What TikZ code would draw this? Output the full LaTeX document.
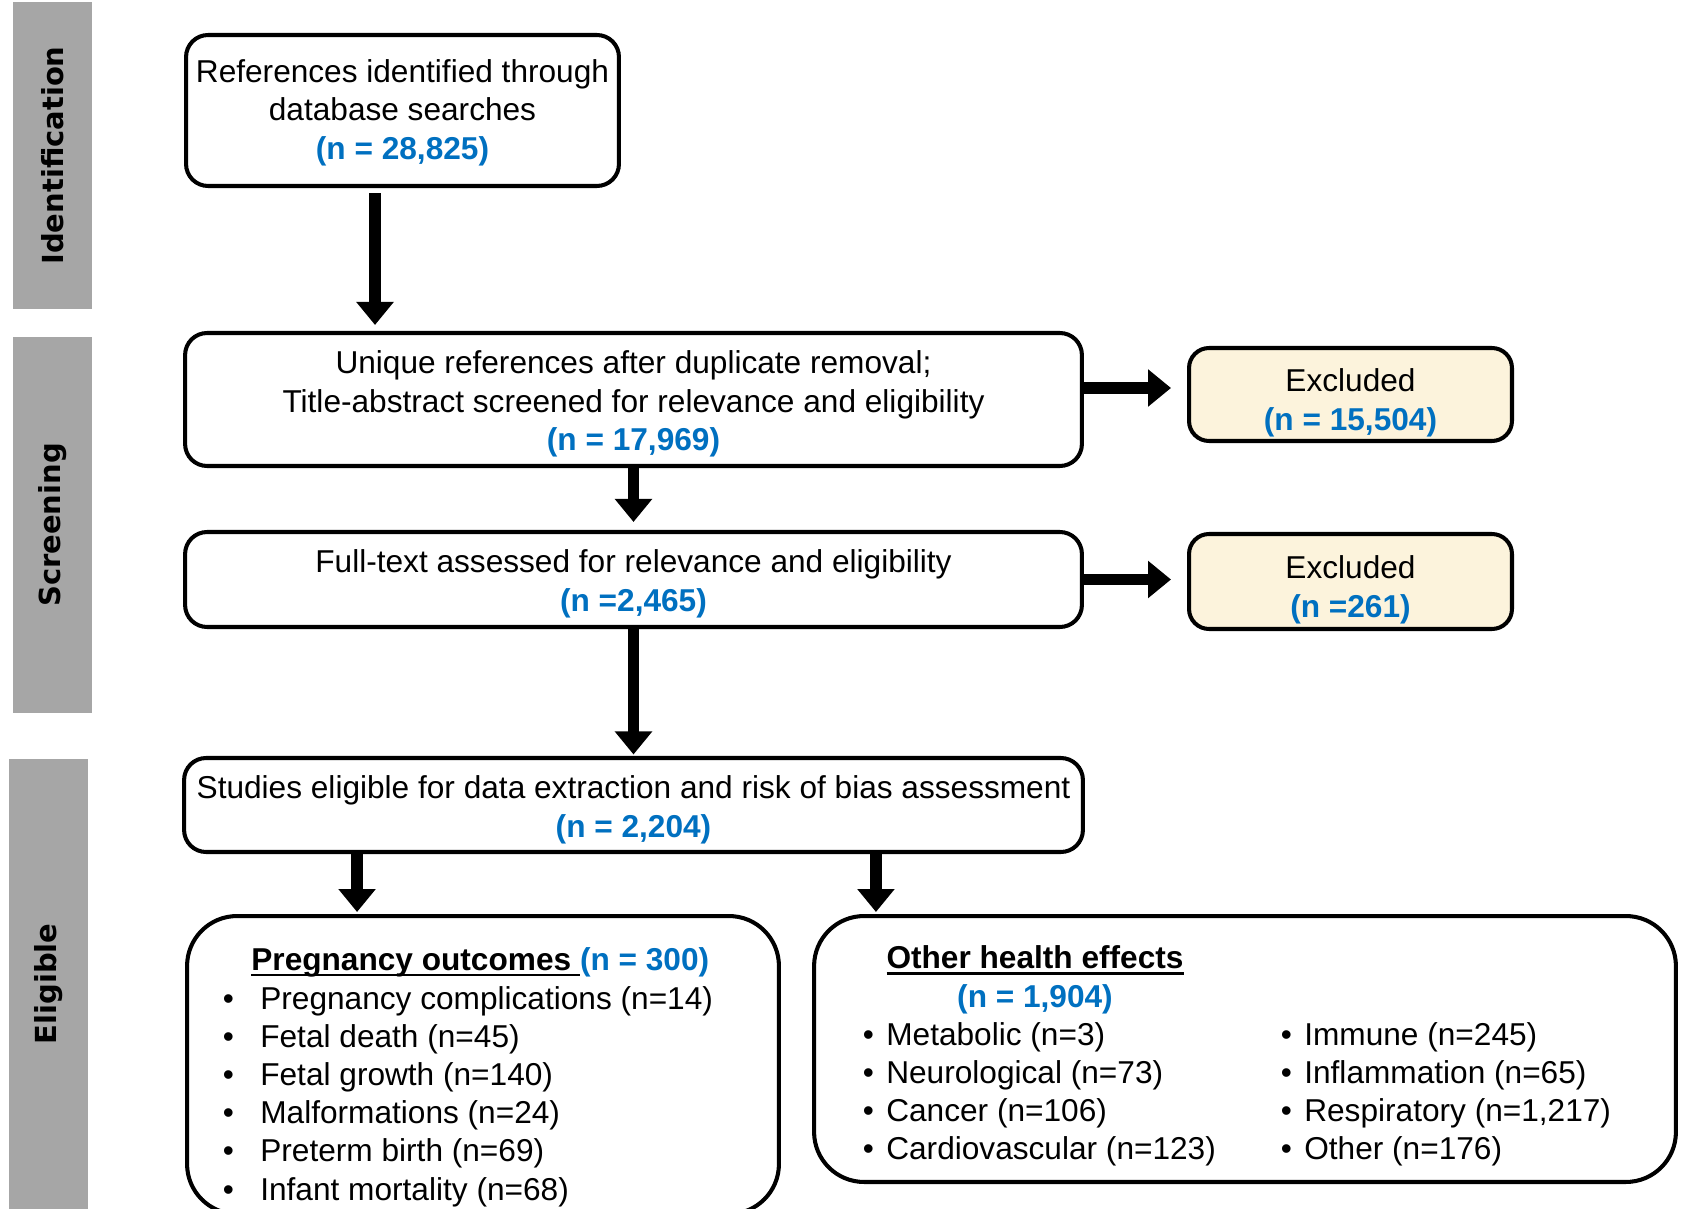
\documentclass[tikz,border=0pt]{standalone}
\usepackage{fontspec}
\setmainfont{Liberation Sans}
\newfontfamily\fasefont{DejaVu Sans}
\usetikzlibrary{arrows.meta}
\definecolor{blu}{HTML}{0070C0}
\definecolor{crema}{HTML}{FCF3DC}
\definecolor{grigio}{HTML}{A6A6A6}
\newcommand{\enne}[1]{{\color{blu}\bfseries #1}}
\newcommand{\sottolinea}[1]{\setbox0\hbox{#1}\rlap{\rule[-3.6pt]{\wd0}{1.6pt}}\box0}
\newcommand{\giu}[1][0.8cm]{\rule{0pt}{#1}}

\begin{document}
\begin{tikzpicture}[x=0.02cm, y=-0.02cm,
			fase/.style={fill=grigio, rotate=90, inner sep=0pt, minimum height=1.58cm,
				font=\fasefont\bfseries\fontsize{16.5}{20}\selectfont},
			blocco/.style={draw=black, line width=2.3pt, rounded corners=0.44cm, fill=white,
				inner sep=0pt, align=center, font=\fontsize{18}{22}\selectfont},
			escluso/.style={blocco, fill=crema, rounded corners=0.4cm},
			grande/.style={draw=black, line width=2.3pt, rounded corners=1cm, inner sep=0pt},
			voce/.style={anchor=base west, inner sep=0pt, font=\fontsize{18}{22}\selectfont},
			freccia/.style={line width=6.5pt, -{Triangle[width=0.72cm,length=0.46cm]}},
			]
			\def\passo{38.2}
			\useasboundingbox (0,0) rectangle (1684,1209);
			
			%% ── fasi ───────────────────────────────────────────────
			\node[fase, minimum width=6.14cm] (ident) at (52.5,155.5) {Identification};
			\node[fase, minimum width=7.52cm] (scree) at (52.5,525) {Screening};
			\node[fase, minimum width=9cm] (elig) at (48.5,984) {Eligible};
			
			%% ── blocchi ────────────────────────────────────────────
			\node[blocco, minimum width=8.66cm, minimum height=3.02cm] (rif) at (402.5,110.5)
				{\giu[0.55cm]References identified through\\database searches\\\enne{(n = 28,825)}};
			\node[blocco, minimum width=17.94cm, minimum height=2.66cm] (uniche) at (633.5,399.5)
				{\giu[0.64cm]Unique references after duplicate removal;\\Title-abstract screened for relevance and eligibility\\\enne{(n = 17,969)}};
			\node[blocco, minimum width=17.94cm, minimum height=1.9cm] (fulltext) at (633.5,579.5)
				{\giu[0.64cm]Full-text assessed for relevance and eligibility\\\enne{(n =2,465)}};
			\node[blocco, minimum width=17.98cm, minimum height=1.88cm] (idonei) at (633.5,805)
				{\giu[0.64cm]Studies eligible for data extraction and risk of bias assessment\\\enne{(n = 2,204)}};
			\node[escluso, minimum width=6.46cm, minimum height=1.86cm] (escl1) at (1350.5,394.5)
				{\giu Excluded\\\enne{(n = 15,504)}};
			\node[escluso, minimum width=6.46cm, minimum height=1.9cm] (escl2) at (1350.5,581.5)
				{\giu Excluded\\\enne{(n =261)}};
			\node[grande, minimum width=11.84cm, minimum height=5.96cm] (grav) at (483,1065) {};
			\node[grande, minimum width=17.24cm, minimum height=5.32cm] (altri) at (1245,1049) {};
			
			%% ── frecce ─────────────────────────────────────────────
			\draw[freccia, shorten <=0.1cm, shorten >=0.12cm]
				([xshift=-0.55cm]rif.south) -- ([xshift=-0.55cm]rif.south |- uniche.north);
			\draw[freccia, shorten >=0.16cm] (uniche) -- (fulltext);
			\draw[freccia, shorten >=0.03cm] (fulltext) -- (idonei);
			\draw[freccia, shorten >=0.32cm]
				([yshift=0.23cm]uniche.east) -- ([yshift=0.23cm]uniche.east -| escl1.west);
			\draw[freccia, shorten >=0.32cm] (fulltext.east) -- (fulltext.east -| escl2.west);
			\draw[freccia, shorten >=0.04cm]
				([xshift=-5.53cm]idonei.south) -- ([xshift=-5.53cm]idonei.south |- grav.north);
			\draw[freccia, shorten >=0.04cm]
				([xshift=4.85cm]idonei.south) -- ([xshift=4.85cm]idonei.south |- altri.north);
			
			%% ── esiti gravidanza ───────────────────────────────────
			\node[voce] (gravtit) at (251,970)
				{\sottolinea{\bfseries Pregnancy outcomes\ }\enne{(n = 300)}};
			\foreach \testo [count=\i from 0] in {Pregnancy complications (n=14), Fetal death (n=45),
				Fetal growth (n=140), Malformations (n=24), Preterm birth (n=69), Infant mortality (n=68)}
			\node[voce] (p\i) at (222.5,1009+\passo*\i) {\makebox[0.75cm][l]{\textbullet}\testo};
			
			%% ── altri effetti ──────────────────────────────────────
			\node[align=center, inner sep=0pt, font=\fontsize{18}{22}\selectfont] (altritit) at (1035,980)
				{\sottolinea{\bfseries Other health effects}\\\enne{(n = 1,904)}};
			\foreach \testo [count=\i from 0] in {Metabolic (n=3), Neurological (n=73),
				Cancer (n=106), Cardiovascular (n=123)}
			\node[voce] (s\i) at (862.5,1045+\passo*\i) {\makebox[0.47cm][l]{\textbullet}\testo};
			\foreach \testo [count=\i from 0] in {Immune (n=245), Inflammation (n=65),
				{Respiratory (n=1,217)}, Other (n=176)}
			\node[voce] (d\i) at (1280.5,1045+\passo*\i) {\makebox[0.47cm][l]{\textbullet}\testo};
			
\end{tikzpicture}
\end{document}
